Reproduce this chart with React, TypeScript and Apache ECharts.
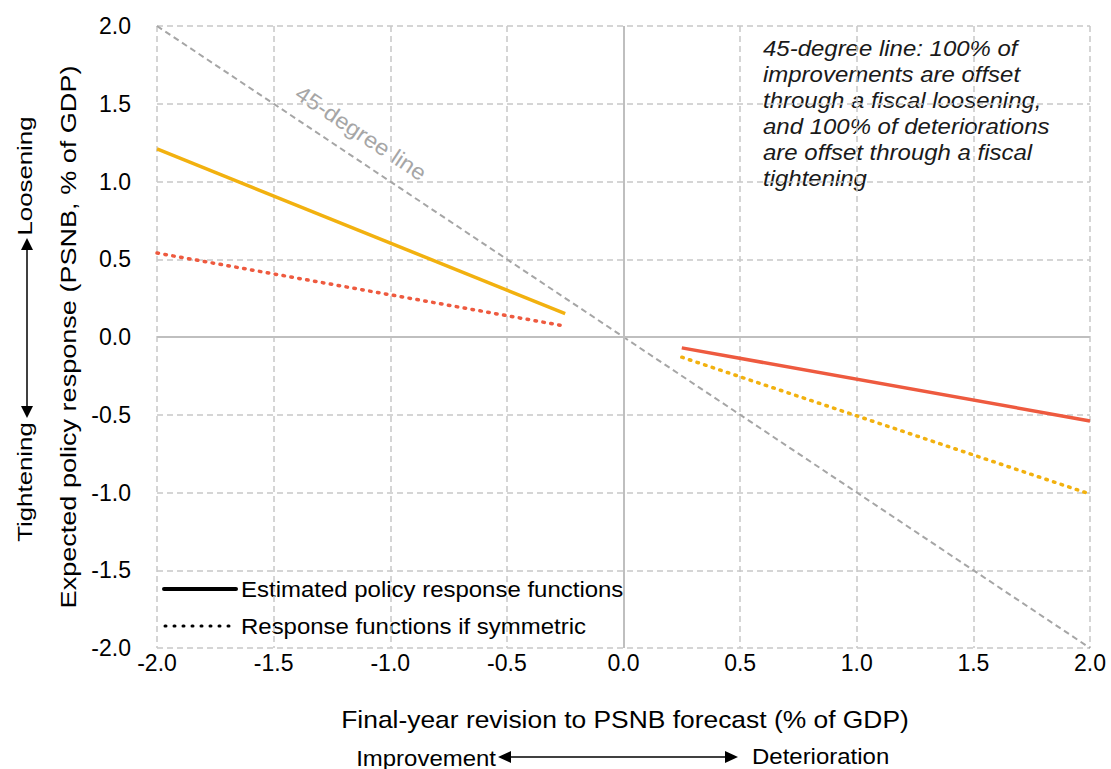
import React, { useEffect, useRef } from "react";
import * as echarts from "echarts";

const xTicks = [-2, -1.5, -1, -0.5, 0, 0.5, 1, 1.5, 2];
const line45: number[][] = [[-2, 2], [2, -2]];
const improveEstimated: number[][] = [[-2, 1.21], [-0.25, 0.15]];
const improveSymmetric: number[][] = [[-2, 0.54], [-0.25, 0.07]];
const deteriorEstimated: number[][] = [[0.25, -0.07], [2, -0.54]];
const deteriorSymmetric: number[][] = [[0.25, -0.13], [2, -1.01]];

const YELLOW = "#F2B10F";
const RED = "#EE5A3F";
const GREY45 = "#A6A6A6";
const FONT = "Liberation Sans, Arial, sans-serif";

const noteLines = [
  "45-degree line: 100% of",
  "improvements are offset",
  "through a fiscal loosening,",
  "and 100% of deteriorations",
  "are offset through a fiscal",
  "tightening",
];

export default function App() {
  const ref = useRef<HTMLDivElement>(null);
  useEffect(() => {
    if (!ref.current) return;
    const chart = echarts.init(ref.current, undefined, { renderer: "svg" });
    const axisCommon = {
      type: "value" as const,
      min: xTicks[0],
      max: xTicks[xTicks.length - 1],
      interval: 0.5,
      axisLine: { show: false },
      axisTick: { show: false },
      splitLine: { show: true, lineStyle: { color: "#C8C8C8", type: [6, 4] as any, width: 1.5 } },
    };
    const txt = (
      text: string,
      x: number,
      y: number,
      size: number,
      opts: any = {}
    ) => ({
      type: "text",
      x,
      y,
      rotation: opts.rotation || 0,
      scaleX: opts.scaleX || 1,
      style: {
        text,
        fill: opts.fill || "#000",
        font: `${opts.italic ? "italic " : ""}${size}px ${FONT}`,
        align: opts.align || "left",
        verticalAlign: opts.verticalAlign || "middle",
        lineHeight: opts.lineHeight,
      },
    });
    chart.setOption({
      animation: false,
      textStyle: { fontFamily: FONT },
      grid: { left: 157, right: 21, top: 26, bottom: 121, containLabel: false },
      xAxis: {
        ...axisCommon,
        axisLabel: {
          color: "#000",
          fontSize: 23,
          fontFamily: FONT,
          margin: 3,
          formatter: (v: number) => v.toFixed(1),
        },
      },
      yAxis: {
        ...axisCommon,
        axisLabel: {
          color: "#000",
          fontSize: 23,
          fontFamily: FONT,
          margin: 26,
          formatter: (v: number) => v.toFixed(1),
        },
      },
      series: [
        {
          type: "line",
          data: [],
          silent: true,
          markLine: {
            silent: true,
            symbol: "none",
            label: { show: false },
            lineStyle: { color: "#BFBFBF", type: "solid", width: 2 },
            data: [{ xAxis: 0 }, { yAxis: 0 }],
          },
        },
        {
          type: "line",
          data: line45,
          symbol: "none",
          lineStyle: { color: GREY45, type: [6, 4] as any, width: 2 },
        },
        {
          type: "line",
          data: improveEstimated,
          symbol: "none",
          lineStyle: { color: YELLOW, width: 3.5 },
        },
        {
          type: "line",
          data: improveSymmetric,
          symbol: "none",
          lineStyle: { color: RED, width: 3.5, type: [1.5, 6.5] as any, cap: "round" },
        },
        {
          type: "line",
          data: deteriorEstimated,
          symbol: "none",
          lineStyle: { color: RED, width: 3.5 },
        },
        {
          type: "line",
          data: deteriorSymmetric,
          symbol: "none",
          lineStyle: { color: YELLOW, width: 3.5, type: [1.5, 6.5] as any, cap: "round" },
        },
      ],
      graphic: [
        txt("45-degree line", 361, 133, 22, {
          rotation: -Math.atan(622 / 933),
          scaleX: 1.08,
          fill: GREY45,
          align: "center",
        }),
        txt(noteLines.join("\n"), 763, 35, 22, {
          italic: true,
          scaleX: 1.09,
          fill: "#1a1a1a",
          verticalAlign: "top",
          lineHeight: 26,
        }),
        {
          type: "line",
          shape: { x1: 164, y1: 589, x2: 236, y2: 589 },
          style: { stroke: "#000", lineWidth: 4, lineCap: "round" },
        },
        txt("Estimated policy response functions", 241, 589, 22, { scaleX: 1.09 }),
        {
          type: "line",
          shape: { x1: 165, y1: 626, x2: 229, y2: 626 },
          style: { stroke: "#000", lineWidth: 3, lineDash: [1, 8], lineCap: "round" },
        },
        txt("Response functions if symmetric", 241, 626, 22, { scaleX: 1.09 }),
        txt("Expected policy response (PSNB, % of GDP)", 68, 337, 22, {
          rotation: Math.PI / 2,
          scaleX: 1.23,
          align: "center",
        }),
        txt("Loosening", 25, 176, 21, { rotation: Math.PI / 2, scaleX: 1.23, align: "center" }),
        txt("Tightening", 25, 482, 21, { rotation: Math.PI / 2, scaleX: 1.23, align: "center" }),
        {
          type: "line",
          shape: { x1: 27, y1: 248, x2: 27, y2: 408 },
          style: { stroke: "#000", lineWidth: 1.5 },
        },
        {
          type: "polygon",
          shape: { points: [[27, 238], [21, 250], [33, 250]] },
          style: { fill: "#000" },
        },
        {
          type: "polygon",
          shape: { points: [[27, 418], [21, 406], [33, 406]] },
          style: { fill: "#000" },
        },
        txt("Final-year revision to PSNB forecast (% of GDP)", 625, 719, 24, {
          scaleX: 1.1,
          align: "center",
        }),
        txt("Improvement", 496, 758, 22, { scaleX: 1.09, align: "right" }),
        txt("Deterioration", 752, 756, 22, { scaleX: 1.09 }),
        {
          type: "line",
          shape: { x1: 508, y1: 757, x2: 728, y2: 757 },
          style: { stroke: "#000", lineWidth: 1.5 },
        },
        {
          type: "polygon",
          shape: { points: [[498, 757], [511, 751], [511, 763]] },
          style: { fill: "#000" },
        },
        {
          type: "polygon",
          shape: { points: [[738, 757], [725, 751], [725, 763]] },
          style: { fill: "#000" },
        },
      ],
    });
    return () => chart.dispose();
  }, []);
  return <div ref={ref} style={{ width: 1111, height: 769, position: "absolute", left: 0, top: 0 }} />;
}
